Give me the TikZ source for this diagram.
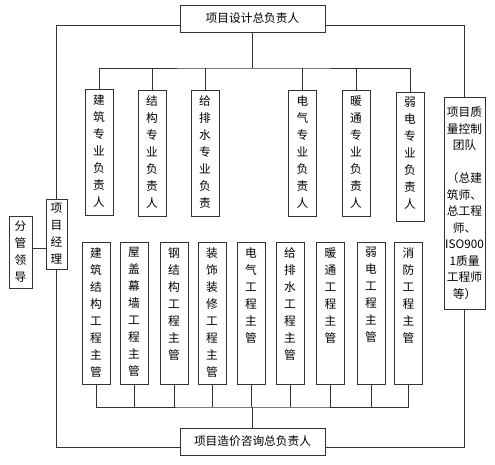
\documentclass[tikz,border=0pt]{standalone}
\usepackage{fontspec}
\newfontfamily\cjk{Noto Sans CJK SC}
\usetikzlibrary{positioning}

% vertical column of characters, top aligned
\newcommand{\vcol}[2]{\parbox[c][#1][t]{14pt}{\centering #2}}

\begin{document}
\begin{tikzpicture}[
    x=1pt, y=-1pt,
    every node/.style={font=\cjk\fontsize{11.7}{17}\selectfont},
    hbox/.style={rectangle, draw=black!80, line width=0.8pt, minimum width=145pt, minimum height=27pt, inner sep=2pt},
    vbox/.style={rectangle, draw=black!80, line width=0.8pt, minimum width=28pt, inner xsep=0pt, inner ysep=5pt, anchor=north},
    sbox/.style={rectangle, draw=black!80, line width=0.8pt, inner sep=0pt, align=center},
    link/.style={draw=black!80, line width=0.8pt}
]
    \useasboundingbox (0,0) rectangle (495,465);

    % Nodes
    \node (design) [hbox] at (252.5,18.5) {项目设计总负责人};
    \node (cost) [hbox] at (252.5,441.5) {项目造价咨询总负责人};

    % Design leads
    \node (d1) [vbox] at (99,89) {\vcol{116pt}{建\\筑\\专\\业\\负\\责\\人}};
    \node (d2) [vbox] at (152,90) {\vcol{116pt}{结\\构\\专\\业\\负\\责\\人}};
    \node (d3) [vbox] at (205,90) {\vcol{116pt}{给\\排\\水\\专\\业\\负\\责}};
    \node (d4) [vbox] at (302.5,90) {\vcol{116pt}{电\\气\\专\\业\\负\\责\\人}};
    \node (d5) [vbox] at (356,90) {\vcol{116pt}{暖\\通\\专\\业\\负\\责\\人}};
    \node (d6) [vbox] at (410,92) {\vcol{119pt}{弱\\电\\专\\业\\负\\责\\人}};

    % Engineering managers
    \node (e1) [vbox] at (96,242) {\vcol{132pt}{建\\筑\\结\\构\\工\\程\\主\\管}};
    \node (e2) [vbox] at (134,242) {\vcol{132pt}{屋\\盖\\幕\\墙\\工\\程\\主\\管}};
    \node (e3) [vbox] at (174,242) {\vcol{132pt}{钢\\结\\构\\工\\程\\主\\管}};
    \node (e4) [vbox] at (212,242) {\vcol{132pt}{装\\饰\\装\\修\\工\\程\\主\\管}};
    \node (e5) [vbox] at (251,242) {\vcol{132pt}{电\\气\\工\\程\\主\\管}};
    \node (e6) [vbox] at (290,242) {\vcol{132pt}{给\\排\\水\\工\\程\\主\\管}};
    \node (e7) [vbox] at (330.5,242) {\vcol{132pt}{暖\\通\\工\\程\\主\\管}};
    \node (e8) [vbox] at (371,242) {\vcol{132pt}{弱\\电\\工\\程\\主\\管}};
    \node (e9) [vbox] at (408.5,242) {\vcol{132pt}{消\\防\\工\\程\\主\\管}};

    % Side boxes
    \node (pm) [sbox, minimum width=21pt, minimum height=70pt] at (56.5,234) {项\\目\\经\\理};
    \node (lead) [sbox, minimum width=23pt, minimum height=72pt] at (20.5,252) {分\\管\\领\\导};
    \node (qc) [sbox, minimum width=41pt, minimum height=212pt, font=\cjk\fontsize{11.7}{16.5}\selectfont] at (464.5,203)
        {项目质\\量控制\\团队\\[16.5pt]（总建\\筑师、\\总工程\\师、\\ISO900\\1质量\\工程师\\等）};

    % Tree above and below
    \coordinate (tbar) at (252.5,68);
    \coordinate (bbar) at (252.5,407);
    \draw [link] (design.south) -- (tbar);
    \draw [link] (d1.north) |- (tbar) -| (d6.north);
    \foreach \i in {2,...,5}
        \draw [link] (d\i.north) -- (d\i.north |- tbar);
    \draw [link] (cost.north) -- (bbar);
    \draw [link] (e1.south) |- (bbar) -| (e9.south);
    \foreach \i in {2,...,8}
        \draw [link] (e\i.south) -- (e\i.south |- bbar);

    % Outer frame
    \coordinate (topline) at (252.5,25);
    \coordinate (botline) at (252.5,447);
    \draw [link] (design.west |- topline) -| (pm.north);
    \draw [link] (cost.west |- botline) -| (pm.south);
    \draw [link] (design.east |- topline) -| (qc.north);
    \draw [link] (cost.east |- botline) -| (qc.south);

    % Leader to manager
    \coordinate (lk) at (39,248);
    \draw [link] (lead.east |- lk) -- (pm.west |- lk);

\end{tikzpicture}
\end{document}
